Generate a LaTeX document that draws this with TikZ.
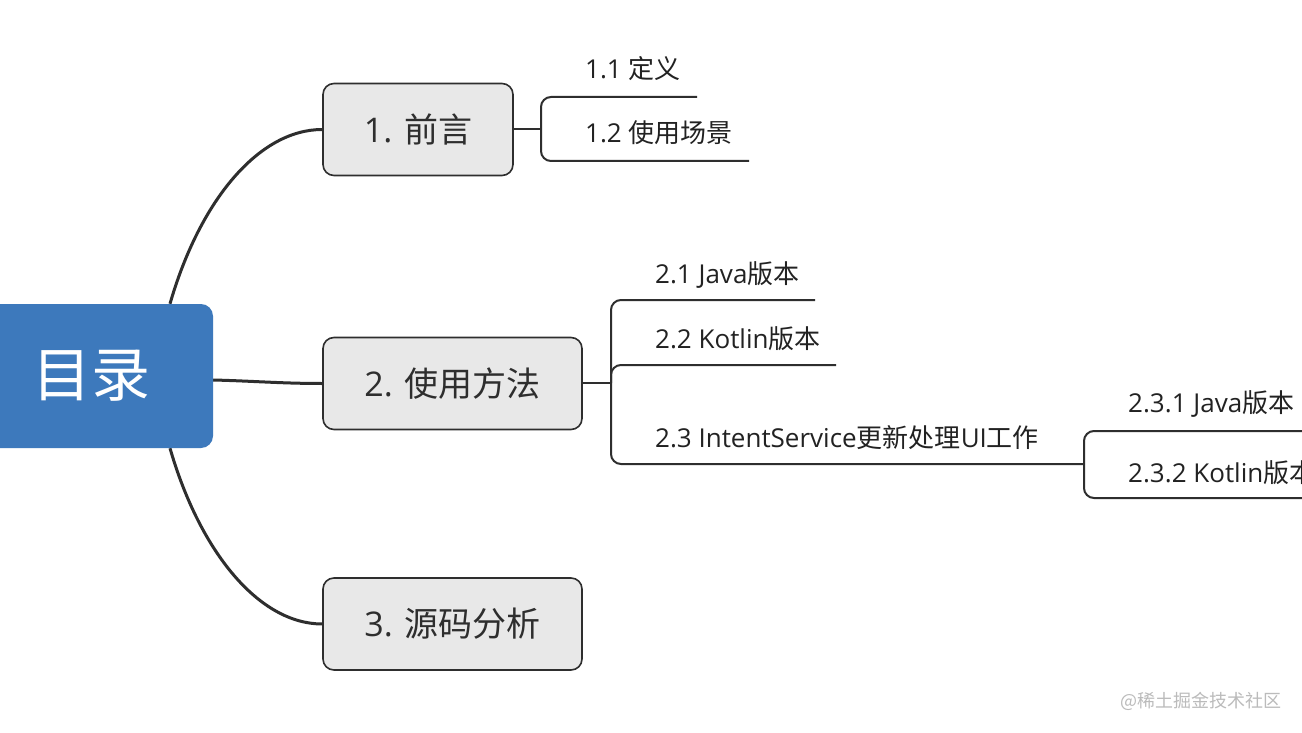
\documentclass[tikz,border=0pt]{standalone}
\usepackage{fontspec}
\setmainfont{Open Sans}
\newfontfamily\cjk{Noto Sans CJK SC}
\usetikzlibrary{backgrounds,calc}
\definecolor{rootblue}{HTML}{3D79BC}
\definecolor{topicfill}{HTML}{E8E8E8}
\definecolor{linedark}{HTML}{2E2E2E}
\definecolor{wmgray}{HTML}{BBBBBB}
\definecolor{subtext}{HTML}{222222}
\begin{document}
\begin{tikzpicture}[x=1pt,y=-1pt,
 rootbox/.style={fill=rootblue, rounded corners=12pt, minimum width=243pt, minimum height=144pt, text=white, font=\cjk\fontsize{59}{60}\selectfont, inner sep=0},
 topic/.style={fill=topicfill, draw=linedark, line width=1.6pt, rounded corners=11pt, minimum height=92pt, inner sep=0, text=linedark, font=\fontsize{34}{40}\selectfont},
 sub/.style={anchor=base west, inner sep=0, font=\fontsize{26}{30}\selectfont, text=subtext},
 mainlink/.style={draw=linedark, line width=3pt},
 sublink/.style={draw=linedark, line width=2pt, rounded corners=10pt},
 wm/.style={anchor=base west, inner sep=0, font=\cjk\fontsize{18}{20}\selectfont, text=wmgray},
]
\useasboundingbox (0,0) rectangle (1302,733);

% main nodes
\node[rootbox] (root) at (91.5,376) {目录};
\node[topic, minimum width=190pt] (n1) at (418,129.5) {1. {\cjk 前言}};
\node[topic, minimum width=259pt] (n2) at (452.5,383.5) {2. {\cjk 使用方法}};
\node[topic, minimum width=259pt] (n3) at (452.5,624) {3. {\cjk 源码分析}};

% sub topics
\node[sub] (s11) at (585,79) {1.1 {\cjk 定义}};
\node[sub] (s12) at (585,143) {1.2 {\cjk 使用场景}};
\node[sub] (s21) at (655,283) {2.1 Java{\cjk 版本}};
\node[sub] (s22) at (655,348) {2.2 Kotlin{\cjk 版本}};
\node[sub] (s23) at (655,447) {2.3 IntentService{\cjk 更新处理}UI{\cjk 工作}};
\node[sub] (s231) at (1128,412) {2.3.1 Java{\cjk 版本}};
\node[sub] (s232) at (1128,482) {2.3.2 Kotlin{\cjk 版本}};

% joints and line ends
\coordinate (j1) at (541,129.5);
\coordinate (e11) at (697,97);
\coordinate (e12) at (749,161);
\coordinate (j2) at (611,383);
\coordinate (e21) at (815,300);
\coordinate (e22) at (836,365);
\coordinate (j3) at (1084,464);
\coordinate (e231) at (1320,431);
\coordinate (e232) at (1320,498);

% sub connectors
\draw[sublink] (n1.east) -- (j1);
\draw[sublink] (e11) -| (j1 |- e12) -- (e12);
\draw[sublink] (n2.east |- j2) -- (j2);
\draw[sublink] (e21) -| (j2 |- j3) -- (j3);
\draw[sublink] (e22) -| (j2);
\draw[sublink] (e231) -| (j3 |- e232) -- (e232);

% main connectors
\begin{pgfonlayer}{background}
\fill[white] (0,0) rectangle (1302,733);
\draw[mainlink] ($(root.north)+(78.5,0)$) .. controls +(30,-104) and +(-63,0) .. (n1.west);
\draw[mainlink] ($(root.south)+(78.5,0)$) .. controls +(30,104) and +(-63,0) .. (n3.west);
\draw[mainlink] ($(root.east)+(0,4)$) .. controls +(40,1) and +(-40,0) .. (n2.west);
\end{pgfonlayer}

% watermark
\node[wm] (mark) at (1120,707) {@稀土掘金技术社区};
\end{tikzpicture}
\end{document}
